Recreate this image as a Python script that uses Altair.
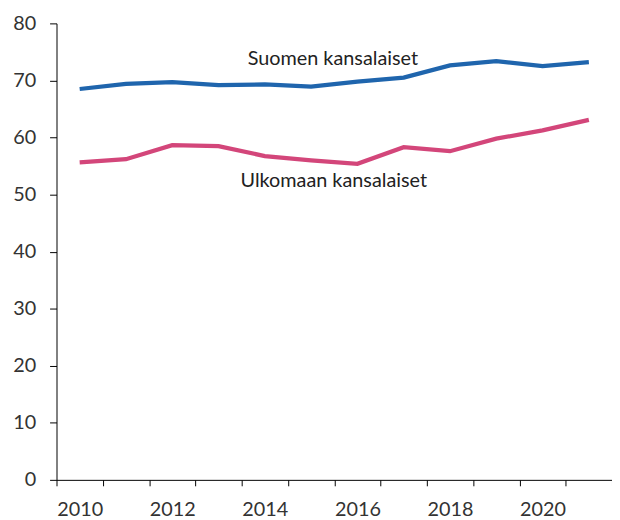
import altair as alt
import pandas as pd

years = list(range(2010, 2022))
suomen = [68.5, 69.4, 69.7, 69.2, 69.3, 68.9, 69.8, 70.5, 72.65, 73.4, 72.5, 73.2]
ulkomaan = [55.65, 56.2, 58.65, 58.5, 56.75, 56.0, 55.4, 58.3, 57.6, 59.8, 61.25, 63.1]
series_names = ["Suomen kansalaiset", "Ulkomaan kansalaiset"]
colors = ["#1f65ad", "#d3467a"]

label_text = series_names
label_x = [2015.47, 2015.49]
label_y = [73.75, 52.4]

rows = []
for name, vals in zip(series_names, [suomen, ulkomaan]):
    for y, v in zip(years, vals):
        rows.append({"year": y, "value": v, "series": name})
df = pd.DataFrame(rows)
labels_df = pd.DataFrame({"text": label_text, "x": label_x, "y": label_y})

FONT = "Lato"
tick_vals = [y - 0.5 for y in years] + [years[-1] + 0.5]

x_scale = alt.Scale(domain=[2009.5, 2021.5], nice=False, zero=False)
y_scale = alt.Scale(domain=[0, 80], nice=False)

lines = alt.Chart(df).mark_line(strokeWidth=4.3).encode(
    x=alt.X("year:Q", scale=x_scale, axis=alt.Axis(
        values=tick_vals, title=None, grid=False, domainColor="#000", tickColor="#000",
        tickSize=6, labelOffset=23.4, labelPadding=14, labelFontSize=20, labelColor="#333",
        labelFont=FONT, labelFlush=False, labelOverlap=False,
        labelExpr="(datum.value + 0.5) % 2 == 0 && datum.value < 2021 ? format(datum.value + 0.5, 'd') : ''")),
    y=alt.Y("value:Q", scale=y_scale, axis=alt.Axis(
        values=list(range(0, 81, 10)), title=None, grid=False, domainColor="#000",
        tickColor="#000", tickSize=7, labelPadding=14, labelFontSize=20, labelColor="#333",
        labelFont=FONT)),
    color=alt.Color("series:N", scale=alt.Scale(domain=series_names, range=colors), legend=None),
)

texts = alt.Chart(labels_df).mark_text(fontSize=20, font=FONT, color="#222").encode(
    x=alt.X("x:Q", scale=x_scale),
    y=alt.Y("y:Q", scale=y_scale),
    text="text:N",
)

chart = alt.layer(lines, texts).properties(
    width=561, height=461,
    autosize=alt.AutoSizeParams(type="none"),
    padding={"left": 49, "top": 13, "right": 0, "bottom": 38},
).configure_view(stroke=None)

chart.save("out.html", embed_options={"renderer": "svg", "actions": False})
